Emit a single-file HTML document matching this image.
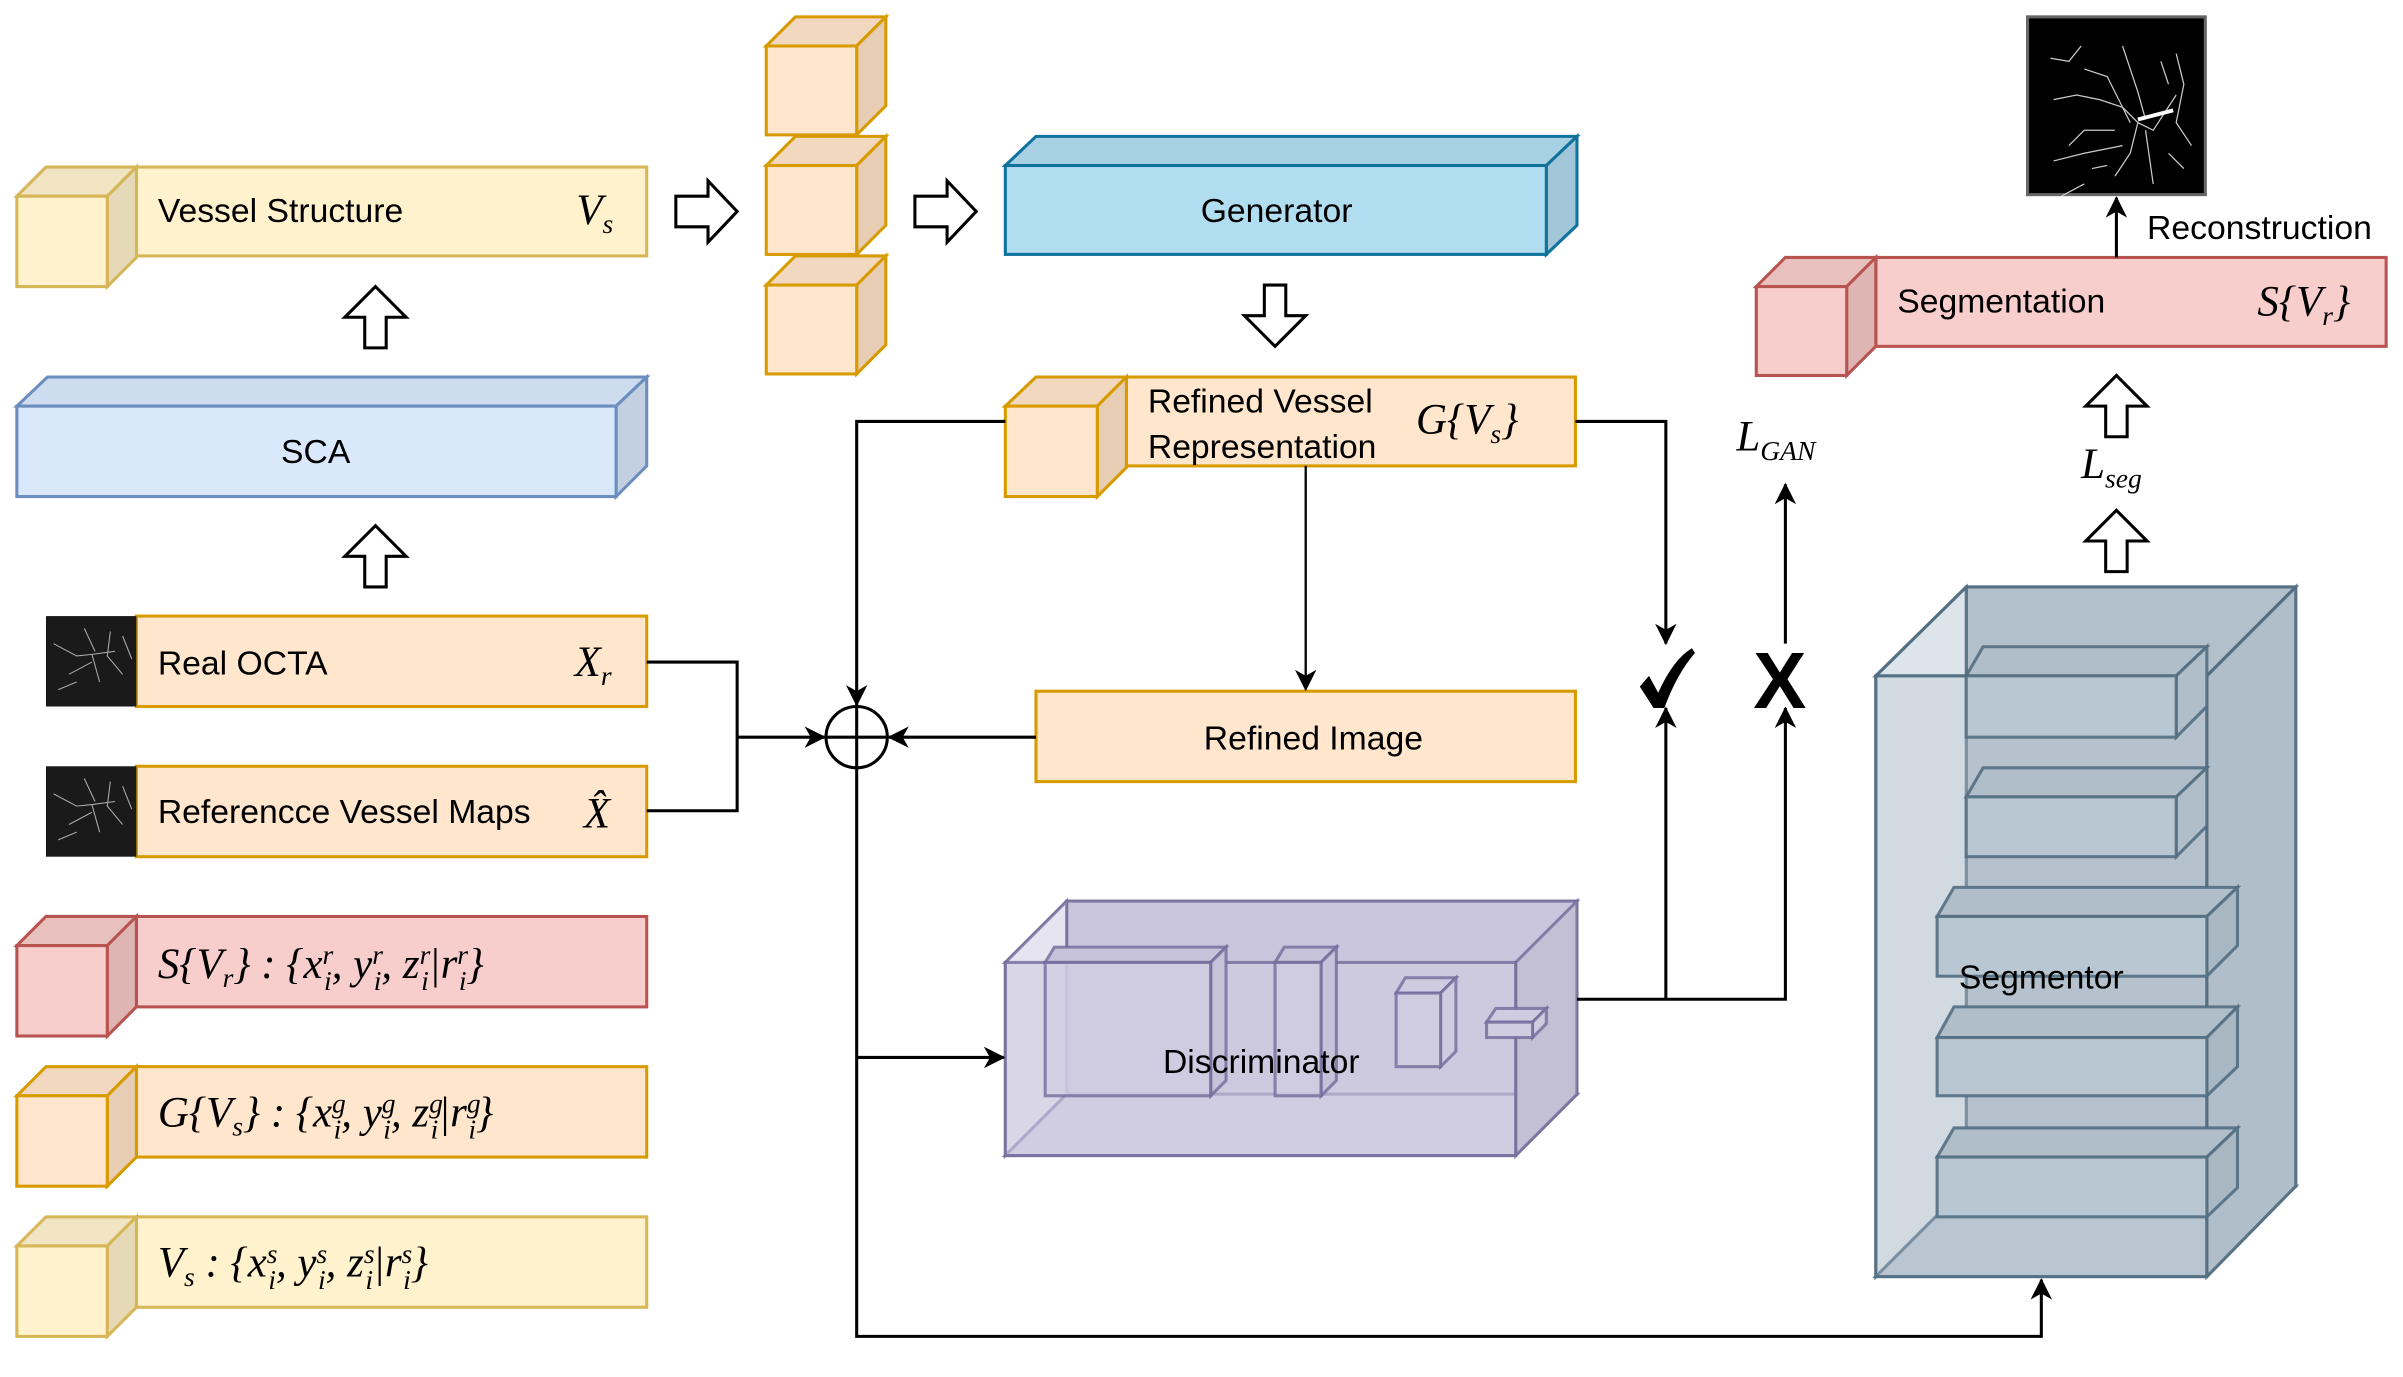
<!DOCTYPE html>
<html><head><meta charset="utf-8"><style>
html,body{margin:0;padding:0;background:#fff}
svg{display:block}
text{font-family:"Liberation Sans",sans-serif;font-size:22px;fill:#000}
.m{font-family:"Liberation Serif",serif;font-style:italic;font-size:28px}
.s{font-size:18px}
</style></head><body>
<svg width="2403" height="1377" viewBox="0 0 1568 898.5" preserveAspectRatio="none" xmlns="http://www.w3.org/2000/svg">
<defs>
<marker id="b" markerWidth="14" markerHeight="14" refX="13" refY="7" orient="auto" markerUnits="userSpaceOnUse"><path d="M0,0 L14,7 L0,14 L4,7z" fill="#000"/></marker>
</defs>
<g stroke-width="2">
<g stroke="#d6b656">
<rect x="89" y="109" width="333" height="58" fill="#fff2cc"/>
<polygon points="11,128 30,109 89,109 70,128" fill="#f0e4c3"/>
<polygon points="70,128 89,109 89,168 70,187" fill="#e6d9b8"/>
<rect x="11" y="128" width="59" height="59" fill="#fff2cc"/>
</g>
<g stroke="#d79b00">
<polygon points="500,30 519,11 578,11 559,30" fill="#f1d8bf"/><polygon points="559,30 578,11 578,69 559,88" fill="#e6cdb4"/><rect x="500" y="30" width="59" height="58" fill="#ffe6cc"/>
<polygon points="500,108 519,89 578,89 559,108" fill="#f1d8bf"/><polygon points="559,108 578,89 578,147 559,166" fill="#e6cdb4"/><rect x="500" y="108" width="59" height="58" fill="#ffe6cc"/>
<polygon points="500,186 519,167 578,167 559,186" fill="#f1d8bf"/><polygon points="559,186 578,167 578,225 559,244" fill="#e6cdb4"/><rect x="500" y="186" width="59" height="58" fill="#ffe6cc"/>
</g>
<g stroke="#10739e">
<polygon points="656,108 676,89 1029,89 1009,108" fill="#a7d0e2"/>
<polygon points="1009,108 1029,89 1029,147 1009,166" fill="#a0c6d8"/>
<rect x="656" y="108" width="353" height="58" fill="#b1ddf0"/>
</g>
<g stroke="#6c8ebf">
<polygon points="11,265 31,246 422,246 402,265" fill="#cedcef"/>
<polygon points="402,265 422,246 422,304 402,324" fill="#c3d0e2"/>
<rect x="11" y="265" width="391" height="59" fill="#dae8fc"/>
</g>
<g stroke="#d79b00">
<rect x="735" y="246" width="293" height="58" fill="#ffe6cc"/>
<polygon points="656,265 676,246 735,246 716,265" fill="#f1d8bf"/>
<polygon points="716,265 735,246 735,305 716,324" fill="#e6cdb4"/>
<rect x="656" y="265" width="60" height="59" fill="#ffe6cc"/>
<rect x="89" y="402" width="333" height="59" fill="#ffe6cc"/>
<rect x="89" y="500" width="333" height="59" fill="#ffe6cc"/>
<rect x="676" y="451" width="352" height="59" fill="#ffe6cc"/>
<rect x="89" y="696" width="333" height="59" fill="#ffe6cc"/>
<polygon points="11,715 30,696 89,696 70,715" fill="#f1d8bf"/><polygon points="70,715 89,696 89,755 70,774" fill="#e6cdb4"/><rect x="11" y="715" width="59" height="59" fill="#ffe6cc"/>
</g>
<rect x="30" y="402" width="59" height="59" fill="#1a1a1a" stroke="none"/>
<rect x="30" y="500" width="59" height="59" fill="#1a1a1a" stroke="none"/>
<g stroke="#aaa" stroke-width="0.7" fill="none">
<path d="M35,420 L50,428 L60,427 L75,425 M60,427 L65,445 M55,410 L62,425 M45,440 L60,432 M72,412 L70,428 L80,440 M38,450 L50,445 M80,415 L86,430"/>
<path d="M35,518 L50,526 L60,525 L75,523 M60,525 L65,543 M55,508 L62,523 M45,538 L60,530 M72,510 L70,526 L80,538 M38,548 L50,543 M80,513 L86,528"/>
</g>
<g stroke="#b85450">
<rect x="89" y="598" width="333" height="59" fill="#f8cecc"/>
<polygon points="11,617 30,598 89,598 70,617" fill="#e8c0be"/><polygon points="70,617 89,598 89,657 70,676" fill="#deb5b3"/><rect x="11" y="617" width="59" height="59" fill="#f8cecc"/>
<rect x="1224" y="168" width="333" height="58" fill="#f8cecc"/>
<polygon points="1146,187 1165,168 1224,168 1205,187" fill="#e8c0be"/><polygon points="1205,187 1224,168 1224,226 1205,245" fill="#deb5b3"/><rect x="1146" y="187" width="59" height="58" fill="#f8cecc"/>
</g>
<g stroke="#d6b656">
<rect x="89" y="794" width="333" height="59" fill="#fff2cc"/>
<polygon points="11,813 30,794 89,794 70,813" fill="#f0e4c3"/><polygon points="70,813 89,794 89,853 70,872" fill="#e6d9b8"/><rect x="11" y="813" width="59" height="59" fill="#fff2cc"/>
</g>
<rect x="1323" y="11" width="116" height="116" fill="#000" stroke="#666"/>
<g stroke="#ccc" stroke-width="0.8" fill="none">
<path d="M1340,65 L1355,62 L1370,65 L1385,70 L1395,80 L1405,85 L1420,62 M1395,80 L1390,100 L1380,115 M1400,85 L1405,120 M1360,45 L1375,50 L1390,80 M1385,30 L1395,60 L1400,78 M1420,35 L1425,55 L1420,80 L1430,95 M1340,105 L1360,100 L1385,95 M1345,128 L1360,120 M1350,95 L1360,85 L1380,85 M1338,38 L1350,40 L1358,30 M1410,40 L1415,55 M1415,100 L1425,110 M1365,110 L1375,108"/>
<path d="M1395,78 L1418,72" stroke="#fff" stroke-width="2.5"/>
</g>
<g stroke="#736a9a" stroke-opacity="0.8">
<polygon points="656,628 696,588 1029,588 989,628" fill="#c9c6dc" fill-opacity="0.9"/>
<rect x="696" y="588" width="333" height="126" fill="#c8c5dc"/>
<polygon points="656,628 696,588 696,714 656,754" fill="#e6e4f0"/>
<polygon points="656,754 696,714 1029,714 989,754" fill="#cfcce2"/>
<polygon points="989,628 1029,588 1029,714 989,754" fill="#c3c0d6"/>
<rect x="656" y="628" width="333" height="126" fill="#d0cde3" fill-opacity="0.6"/>
<polygon points="682,628 688,618 800,618 790,628" fill="#c6c2da"/><polygon points="790,628 800,618 800,705 790,715" fill="#c6c2da"/><rect x="682" y="628" width="108" height="87" fill="#d0cde3" fill-opacity="0.7"/>
<polygon points="832,628 838,618 872,618 862,628" fill="#c6c2da"/><polygon points="862,628 872,618 872,705 862,715" fill="#c6c2da"/><rect x="832" y="628" width="30" height="87" fill="#d0cde3" fill-opacity="0.7"/>
<polygon points="911,648 917,638 950,638 940,648" fill="#cfcce2"/><polygon points="940,648 950,638 950,686 940,696" fill="#cfcce2"/><rect x="911" y="648" width="29" height="48" fill="#d0cde3"/>
<polygon points="970,667 976,658 1009,658 1000,667" fill="#cfcce2"/><polygon points="1000,667 1009,658 1009,668 1000,677" fill="#cfcce2"/><rect x="970" y="667" width="30" height="10" fill="#d0cde3"/>
</g>
<g stroke="#536e82" stroke-opacity="0.9">
<rect x="1283" y="383" width="215" height="391" fill="#b2c0cc"/>
<polygon points="1224,441 1283,383 1283,774 1224,833" fill="#dde4ea"/>
<polygon points="1224,833 1283,774 1498,774 1440,833" fill="#b8c6d1"/>
<polygon points="1440,441 1498,383 1498,774 1440,833" fill="#b0bec9"/>
<polygon points="1224,441 1283,383 1498,383 1440,441" fill="none"/>
<rect x="1224" y="441" width="216" height="392" fill="#b9c7d2" fill-opacity="0.35"/>
<polygon points="1283,441 1294,422 1440,422 1420,441" fill="#b0bec9"/><polygon points="1420,441 1440,422 1440,461 1420,481" fill="#b0bec9"/><rect x="1283" y="441" width="137" height="40" fill="#b9c7d2"/>
<polygon points="1283,520 1294,501 1440,501 1420,520" fill="#b0bec9"/><polygon points="1420,520 1440,501 1440,539 1420,559" fill="#b0bec9"/><rect x="1283" y="520" width="137" height="39" fill="#b9c7d2"/>
<polygon points="1264,598 1275,579 1460,579 1440,598" fill="#b0bec9"/><polygon points="1440,598 1460,579 1460,617 1440,637" fill="#a9b7c2"/><rect x="1264" y="598" width="176" height="39" fill="#b9c7d2"/>
<polygon points="1264,677 1275,657 1460,657 1440,677" fill="#b0bec9"/><polygon points="1440,677 1460,657 1460,696 1440,715" fill="#a9b7c2"/><rect x="1264" y="677" width="176" height="38" fill="#b9c7d2"/>
<polygon points="1264,755 1275,736 1460,736 1440,755" fill="#b0bec9"/><polygon points="1440,755 1460,736 1460,775 1440,794" fill="#a9b7c2"/><rect x="1264" y="755" width="176" height="39" fill="#b9c7d2"/>
</g>
</g>
<g fill="#fff" stroke="#000" stroke-width="2">
<polygon points="441,128 462,128 462,118 481,138 462,158 462,148 441,148"/>
<polygon points="597,128 618,128 618,118 637,138 618,158 618,148 597,148"/>
<polygon points="825,186 839,186 839,206 852,206 832,226 812,206 825,206"/>
<polygon points="238,227 252,227 252,207 265,207 245,187 225,207 238,207"/>
<polygon points="238,383 252,383 252,363 265,363 245,343 225,363 238,363"/>
<polygon points="1374,285 1388,285 1388,265 1401,265 1381,245 1361,265 1374,265"/>
<polygon points="1374,373 1388,373 1388,353 1401,353 1381,333 1361,353 1374,353"/>
</g>
<g stroke="#000" stroke-width="2" fill="none">
<polyline points="656,275 559,275 559,460" marker-end="url(#b)"/>
<polyline points="422,432 481,432 481,529 422,529"/>
<line x1="481" y1="481" x2="538" y2="481" marker-end="url(#b)"/>
<line x1="676" y1="481" x2="580" y2="481" marker-end="url(#b)"/>
<circle cx="559" cy="481" r="20"/>
<line x1="539" y1="481" x2="579" y2="481"/>
<line x1="559" y1="461" x2="559" y2="501"/>
<polyline points="559,501 559,872 1332,872 1332,835" marker-end="url(#b)"/>
<line x1="559" y1="690" x2="655" y2="690" marker-end="url(#b)"/>
<line x1="852" y1="304" x2="852" y2="450" stroke-width="1.5" marker-end="url(#b)"/>
<polyline points="1028,275 1087,275 1087,420" marker-end="url(#b)"/>
<polyline points="1029,652 1165,652 1165,462" marker-end="url(#b)"/>
<line x1="1087" y1="652" x2="1087" y2="462" marker-end="url(#b)"/>
<line x1="1165" y1="420" x2="1165" y2="316" marker-end="url(#b)"/>
<line x1="1381" y1="168" x2="1381" y2="129" marker-end="url(#b)"/>
</g>
<path d="M1070,448 L1076,441 L1082,452 Q1092,430 1104,423 L1106,426 Q1094,440 1086,462 L1079,462 Z" fill="#000"/>
<text x="1144" y="462" style="font-size:52px;font-family:'Liberation Sans',sans-serif;font-weight:bold">X</text>
<text x="103" y="145">Vessel Structure</text>
<text x="376" y="146" class="m">V<tspan class="s" dy="6">s</tspan></text>
<text x="833" y="145" text-anchor="middle">Generator</text>
<text x="206" y="302" text-anchor="middle">SCA</text>
<text x="749" y="269">Refined Vessel</text>
<text x="749" y="299">Representation</text>
<text x="924" y="283" class="m">G{V<tspan class="s" dy="6">s</tspan><tspan dy="-6">}</tspan></text>
<text x="103" y="440">Real OCTA</text>
<text x="375" y="441" class="m">X<tspan class="s" dy="6">r</tspan></text>
<text x="103" y="537">Referencce Vessel Maps</text>
<text x="381" y="540" class="m">X̂</text>
<text x="857" y="489" text-anchor="middle">Refined Image</text>
<text x="823" y="700" text-anchor="middle">Discriminator</text>
<text x="1332" y="645" text-anchor="middle">Segmentor</text>
<text x="1238" y="204">Segmentation</text>
<text x="1473" y="206" class="m">S{V<tspan class="s" dy="6">r</tspan><tspan dy="-6">}</tspan></text>
<text x="1401" y="156">Reconstruction</text>
<text x="1133" y="294" class="m">L<tspan class="s" dy="6">GAN</tspan></text>
<text x="1358" y="312" class="m">L<tspan class="s" dy="6">seg</tspan></text>
<text x="103" y="638" class="m">S{V<tspan class="s" dy="6">r</tspan><tspan dy="-6">} : {x</tspan><tspan class="s" dy="-9">r</tspan><tspan class="s" dx="-6" dy="17">i</tspan><tspan dy="-8">, y</tspan><tspan class="s" dy="-9">r</tspan><tspan class="s" dx="-6" dy="17">i</tspan><tspan dy="-8">, z</tspan><tspan class="s" dy="-9">r</tspan><tspan class="s" dx="-6" dy="17">i</tspan><tspan dy="-8">|r</tspan><tspan class="s" dy="-9">r</tspan><tspan class="s" dx="-6" dy="17">i</tspan><tspan dy="-8">}</tspan></text>
<text x="103" y="735" class="m">G{V<tspan class="s" dy="6">s</tspan><tspan dy="-6">} : {x</tspan><tspan class="s" dy="-9">g</tspan><tspan class="s" dx="-8" dy="17">i</tspan><tspan dy="-8">, y</tspan><tspan class="s" dy="-9">g</tspan><tspan class="s" dx="-8" dy="17">i</tspan><tspan dy="-8">, z</tspan><tspan class="s" dy="-9">g</tspan><tspan class="s" dx="-8" dy="17">i</tspan><tspan dy="-8">|r</tspan><tspan class="s" dy="-9">g</tspan><tspan class="s" dx="-8" dy="17">i</tspan><tspan dy="-8">}</tspan></text>
<text x="103" y="833" class="m">V<tspan class="s" dy="6">s</tspan><tspan dy="-6"> : {x</tspan><tspan class="s" dy="-9">s</tspan><tspan class="s" dx="-6" dy="17">i</tspan><tspan dy="-8">, y</tspan><tspan class="s" dy="-9">s</tspan><tspan class="s" dx="-6" dy="17">i</tspan><tspan dy="-8">, z</tspan><tspan class="s" dy="-9">s</tspan><tspan class="s" dx="-6" dy="17">i</tspan><tspan dy="-8">|r</tspan><tspan class="s" dy="-9">s</tspan><tspan class="s" dx="-6" dy="17">i</tspan><tspan dy="-8">}</tspan></text>
</svg>
</body></html>
